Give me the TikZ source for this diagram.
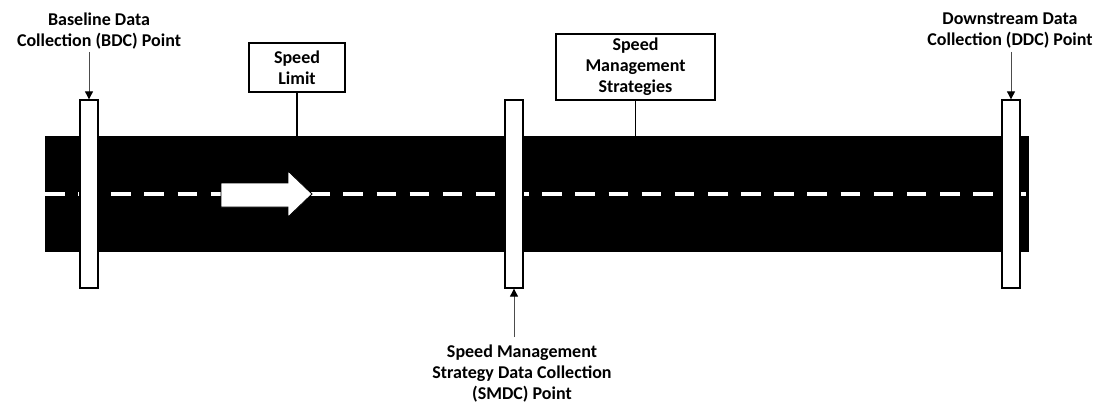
\documentclass[tikz,border=0pt]{standalone}
\usepackage{fontspec}
\setmainfont{Carlito}
\usetikzlibrary{arrows.meta}
\begin{document}
\begin{tikzpicture}[x=1pt,y=-1pt,
  lbl/.style={font=\bfseries\fontsize{18}{21}\selectfont, align=center, inner sep=0pt},
  signbox/.style={draw=black, line width=1.3pt, fill=white, inner sep=0pt, lbl},
  post/.style={draw=black, line width=1.3pt, fill=white, minimum width=18pt, minimum height=188pt, inner sep=0pt},
  pointer/.style={draw=black!70, line width=0.9pt, -{Triangle[width=8pt,length=8pt,color=black]}},
  stem/.style={draw=black, line width=1.3pt}]
\useasboundingbox (0,0) rectangle (1112,404);

% road surface and centre line
\node[fill=black, minimum width=984pt, minimum height=116pt, inner sep=0pt] (road) at (537,194) {};
\draw[white, line width=4.5pt, dash pattern=on 19.5pt off 13.65pt] (45,194) -- (1027,194);

% direction of travel
\draw[fill=white, draw=black, line width=0.8pt]
  (221,183) -- (288,183) -- (288,171) -- (312,194) -- (288,217) -- (288,207) -- (221,207) -- cycle;

% data collection posts
\node[post] (bdc) at (89,194) {};
\node[post] (smdc) at (514,194) {};
\node[post] (ddc) at (1011,194) {};

% signs
\node[signbox, minimum width=96pt, minimum height=49pt] (limit) at (297,67.5) {Speed\\Limit};
\node[signbox, minimum width=159pt, minimum height=66pt] (sms) at (635.5,67) {Speed\\Management\\Strategies};
\draw[stem] (limit.south) -- (limit.south |- road.north);
\draw[stem] (sms.south) -- (sms.south |- road.north);

% labels of the collection points
\node[lbl] (bdclbl) at (99,31) {Baseline Data\\Collection (BDC) Point};
\node[lbl] (ddclbl) at (1010,31) {Downstream Data\\Collection (DDC) Point};
\node[lbl] (smdclbl) at (522,374) {Speed Management\\Strategy Data Collection\\(SMDC) Point};

\coordinate (bdctail) at (89,52);
\coordinate (ddctail) at (1011,52);
\coordinate (smdctail) at (514,337);
\draw[pointer] (bdctail) -- (bdc.north);
\draw[pointer] (ddctail) -- (ddc.north);
\draw[pointer] (smdctail) -- (smdc.south);
\end{tikzpicture}
\end{document}
